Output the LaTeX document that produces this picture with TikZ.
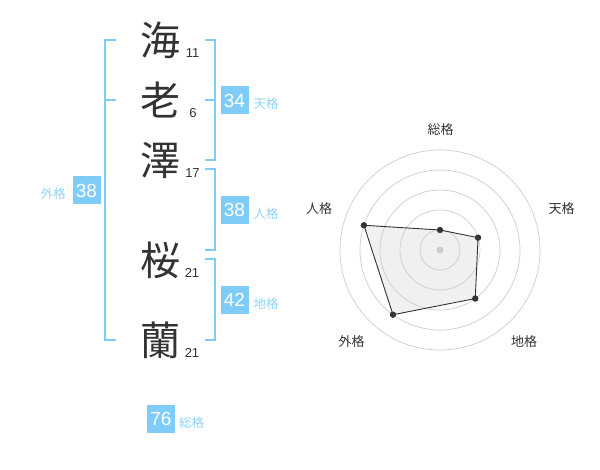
\documentclass[tikz,border=0pt]{standalone}
\usepackage{fontspec}
\setmainfont{Liberation Sans}
\newfontfamily\cjk{Noto Sans CJK JP}
\definecolor{sky}{HTML}{80CCF8}
\definecolor{skytext}{HTML}{8FD3F8}
\definecolor{ink}{HTML}{333333}
\definecolor{ring}{HTML}{CCCCCC}
\definecolor{polyfill}{HTML}{F0F0F0}
\begin{document}
\begin{tikzpicture}[x=1pt,y=-1pt,
  kanji/.style={font=\cjk\fontsize{40}{40}\selectfont, text=ink, inner sep=0pt},
  strokes/.style={font=\fontsize{13}{13}\selectfont, text=ink, anchor=base, inner sep=0pt},
  scorebox/.style={fill=sky, text=white, minimum size=28pt, inner sep=0pt, font=\fontsize{19}{19}\selectfont},
  scorelabel/.style={font=\cjk\fontsize{12.5}{12.5}\selectfont, text=skytext, inner sep=0pt},
  bracket/.style={draw=sky, line width=2pt},
  radarlabel/.style={font=\cjk\fontsize{13}{13}\selectfont, text=ink, inner sep=0pt},
  ringline/.style={draw=ring, line width=0.7pt},
  dot/.style={fill=ink}]
\useasboundingbox (0,0) rectangle (600,470);

% name characters
\node[kanji] (k1) at (160,40) {海};
\node[kanji] (k2) at (160,100) {老};
\node[kanji] (k3) at (160,160) {澤};
\node[kanji] (k4) at (160,260) {桜};
\node[kanji] (k5) at (160,340) {蘭};
\node[strokes] (s1) at (192.5,57.5) {11};
\node[strokes] (s2) at (193,117.5) {6};
\node[strokes] (s3) at (192.5,177.5) {17};
\node[strokes] (s4) at (192,277.5) {21};
\node[strokes] (s5) at (192,357.5) {21};

% brackets
\draw[bracket] (116,40) -- (105,40) -- (105,340) -- (116,340);
\draw[bracket] (105,100) -- (116,100);
\draw[bracket] (205,40) -- (214.5,40) -- (214.5,160) -- (205,160);
\draw[bracket] (214.5,100) -- (205,100);
\draw[bracket] (205,169.5) -- (214.5,169.5) -- (214.5,250) -- (205,250);
\draw[bracket] (205,259.5) -- (214.5,259.5) -- (214.5,340) -- (205,340);

% score boxes
\node[scorebox] (gai) at (86.5,190.5) {38};
\node[scorelabel] (gail) at (53.3,194) {外格};
\node[scorebox] (ten) at (234.5,100.5) {34};
\node[scorelabel] (tenl) at (266,104) {天格};
\node[scorebox] (jin) at (234.5,210) {38};
\node[scorelabel] (jinl) at (266,214) {人格};
\node[scorebox] (chi) at (234.5,300) {42};
\node[scorelabel] (chil) at (266,304) {地格};
\node[scorebox] (sou) at (161,419) {76};
\node[scorelabel] (soul) at (191.7,422.7) {総格};

% radar chart
\coordinate (c) at (440,250);
\path (c) ++(-90:20) coordinate (p1);
\path (c) ++(-18:40) coordinate (p2);
\path (c) ++(54:60) coordinate (p3);
\path (c) ++(126:80) coordinate (p4);
\path (c) ++(198:80) coordinate (p5);
\fill[polyfill] (p1) -- (p2) -- (p3) -- (p4) -- (p5) -- cycle;
\foreach \r in {20,40,60,80,100} \draw[ringline] (c) circle[radius=\r];
\fill[ring] (c) circle[radius=3.5];
\draw[ink, line width=0.9pt, line join=round] (p1) -- (p2) -- (p3) -- (p4) -- (p5) -- cycle;
\foreach \p in {p1,p2,p3,p4,p5} \fill[dot] (\p) circle[radius=3.2];
\node[radarlabel] (r1) at (440.7,130) {総格};
\node[radarlabel] (r2) at (561.7,208.3) {天格};
\node[radarlabel] (r3) at (524,341.7) {地格};
\node[radarlabel] (r4) at (351.7,341.7) {外格};
\node[radarlabel] (r5) at (319,208.3) {人格};
\end{tikzpicture}
\end{document}
